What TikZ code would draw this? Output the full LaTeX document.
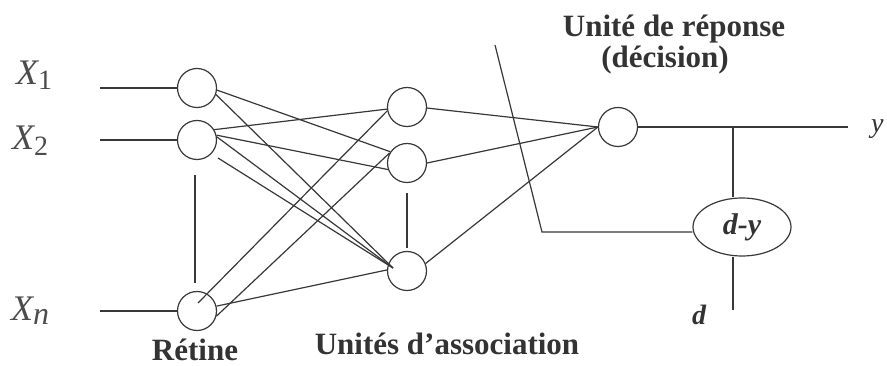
\documentclass[tikz,border=0pt]{standalone}
\usepackage{fontspec}
\setmainfont{Liberation Serif}
\usetikzlibrary{shapes.geometric}
\begin{document}
\begin{tikzpicture}[x=1pt,y=-1pt,
  neuron/.style={circle,draw=black!78,line width=1.2pt,minimum size=39pt,inner sep=0pt},
  wire/.style={draw=black!78,line width=1.2pt},
  title/.style={font=\fontsize{31}{34}\selectfont\bfseries,text=black!80,inner sep=0pt,anchor=base},
  inlab/.style={font=\fontsize{36}{40}\selectfont\itshape,text=black!70,inner sep=0pt,anchor=base west},
  varlab/.style={font=\fontsize{28}{30}\selectfont\itshape,text=black!80,inner sep=0pt,anchor=base west}]
\useasboundingbox[fill=white] (0,0) rectangle (887,366);

% neurons
\node[neuron] (R1) at (197,88) {};
\node[neuron] (R2) at (197,140) {};
\node[neuron] (Rn) at (197,311) {};
\node[neuron] (A1) at (407,107) {};
\node[neuron] (A2) at (407,163) {};
\node[neuron] (A3) at (407,271) {};
\node[neuron] (U) at (618,127) {};
\node[ellipse,draw=black!78,line width=1.2pt,minimum width=98pt,minimum height=58pt,inner sep=0pt,
      font=\fontsize{30}{32}\selectfont\bfseries\itshape,text=black!80] (E) at (742,227) {d-y};

% input labels
\node[inlab] (X1) at (16,85) {X\raisebox{-5pt}{\fontsize{28}{32}\selectfont\upshape 1}};
\node[inlab] (X2) at (12,150) {X\raisebox{-6pt}{\fontsize{28}{32}\selectfont\upshape 2}};
\node[inlab] (Xn) at (11,320) {X\raisebox{-5pt}{\fontsize{32}{34}\selectfont n}};

% coordinates
\coordinate (in1) at (100,88);
\coordinate (in2) at (100,140);
\coordinate (inn) at (100,311);
\coordinate (rv1) at (195,175);
\coordinate (rv2) at (195,283);
\coordinate (av1) at (407,193);
\coordinate (av2) at (407,248);
\coordinate (yend) at (848,127);
\coordinate (tap) at (733,127);
\coordinate (dend) at (733,310);
\coordinate (fbtop) at (495,45);
\coordinate (fbcorner) at (542,232);
\coordinate (a3in) at (393,268);
\coordinate (rnin) at (198,303);

% inputs
\draw[wire] (in1) -- (R1);
\draw[wire] (in2) -- (R2);
\draw[wire] (inn) -- (Rn);
\draw[wire] (rv1) -- (rv2);
\draw[wire] (av1) -- (av2);

% retina -> association
\draw[wire] (R1.-6) -- (A2.146);
\draw[wire] (R1.-19) -- (a3in);
\draw[wire] (R2.31) -- (A1.186);
\draw[wire] (R2.14) -- (A2.199);
\draw[wire] (R2.9) -- (a3in);
\draw[wire] ([shift={(21,18)}]R2.center) -- (a3in);
\draw[wire] (rnin) -- (A1.191);
\draw[wire] (Rn.-15) -- (A2.150);
\draw[wire] (Rn.14) -- (A3.177);

% association -> response
\draw[wire] (A1.-3) -- (U.west);
\draw[wire] (A2.east) -- (U.west);
\draw[wire] (A3.22) -- (U.west);

% output and error
\draw[wire] (U) -- (yend);
\draw[wire] (tap) -- (tap |- E.north);
\draw[wire] (tap |- E.south) -- (dend);
\draw[wire] (fbtop) -- (fbcorner) -- (E.west |- fbcorner);

% labels
\node[varlab] (ylab) at (871,133) {y};
\node[varlab,font=\fontsize{28}{30}\selectfont\bfseries\itshape] (dlab) at (692,324) {d};
\node[title] (t1) at (674,37) {Unité de réponse};
\node[title] (t2) at (665,68) {(décision)};
\node[title] (t3) at (447,355) {Unités d’association};
\node[title] (t4) at (195,360) {Rétine};
\end{tikzpicture}
\end{document}
